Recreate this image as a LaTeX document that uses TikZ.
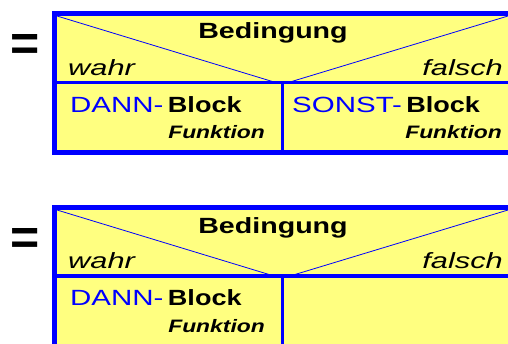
\documentclass[tikz,border=0pt]{standalone}
\usepackage{fontspec}
\setmainfont{Liberation Sans}
\newfontfamily\condfont[FakeStretch=1.30]{Liberation Sans}
\newfontfamily\branchfont[FakeStretch=1.40]{Liberation Sans}
\newfontfamily\keyfont[FakeStretch=1.34]{Liberation Sans}
\newfontfamily\blkfont[FakeStretch=1.23]{Liberation Sans}
\newfontfamily\funcfont[FakeStretch=1.27]{Liberation Sans}
\usetikzlibrary{positioning}
\definecolor{nsyellow}{RGB}{255,255,128}
\definecolor{nsblue}{RGB}{0,0,255}

\begin{document}
\begin{tikzpicture}[x=1pt,y=-1pt,
  area/.style={fill=nsyellow},
  edge/.style={draw=nsblue,line width=5pt},
  sep/.style={draw=nsblue,line width=3.5pt},
  diag/.style={draw=nsblue,line width=0.8pt},
  txt/.style={inner sep=0pt},
  cond/.style={txt,font=\condfont\bfseries\fontsize{22}{22}\selectfont,anchor=base},
  branch/.style={txt,font=\branchfont\itshape\fontsize{22}{22}\selectfont},
  key/.style={txt,font=\keyfont\fontsize{22}{22}\selectfont,text=nsblue,anchor=base west},
  blk/.style={txt,font=\blkfont\bfseries\fontsize{22}{22}\selectfont,anchor=base west},
  func/.style={txt,font=\funcfont\bfseries\itshape\fontsize{18}{18}\selectfont,anchor=base east},
  eq/.style={inner sep=0pt,font=\bfseries\fontsize{50}{50}\selectfont}]
\clip (0,0) rectangle (508,343);
% first structure: both branches
\path[area] (54.5,13.5) rectangle (520,152.5);
\draw[edge] (520,13.5) -- (54.5,13.5) -- (54.5,152.5) -- (520,152.5);
\draw[sep] (57,82.5) -- (520,82.5);
\draw[sep] (282.5,84) -- (282.5,150);
\draw[diag] (57,16) -- (274,82);
\draw[diag] (290,82) -- (508,16);
\node[eq] (eq1) at (25.5,47.5) {=};
\node[cond] (cond1) at (273,38) {Bedingung};
\node[branch,anchor=base west] (yes1) at (68,75) {wahr};
\node[branch,anchor=base east] (no1) at (503,75) {falsch};
\node[key] (then1) at (70,112) {DANN-};
\node[blk] (thenblk1) at ([xshift=4pt]then1.base east) {Block};
\node[func] (thenfn1) at (265,138) {Funktion};
\node[key] (else1) at (292,112) {SONST-};
\node[blk] (elseblk1) at ([xshift=4pt]else1.base east) {Block};
\node[func] (elsefn1) at (502,138) {Funktion};
% second structure: empty else branch
\path[area] (54.5,207.5) rectangle (520,350);
\draw[edge] (520,207.5) -- (54.5,207.5) -- (54.5,350);
\draw[sep] (57,276) -- (520,276);
\draw[sep] (282.5,278) -- (282.5,350);
\draw[diag] (57,210) -- (274,276);
\draw[diag] (290,276) -- (508,210);
\node[eq] (eq2) at (25.5,241) {=};
\node[cond] (cond2) at (273,233) {Bedingung};
\node[branch,anchor=base west] (yes2) at (68,268) {wahr};
\node[branch,anchor=base east] (no2) at (503,268) {falsch};
\node[key] (then2) at (70,305) {DANN-};
\node[blk] (thenblk2) at ([xshift=4pt]then2.base east) {Block};
\node[func] (thenfn2) at (265,332) {Funktion};
\end{tikzpicture}
\end{document}
